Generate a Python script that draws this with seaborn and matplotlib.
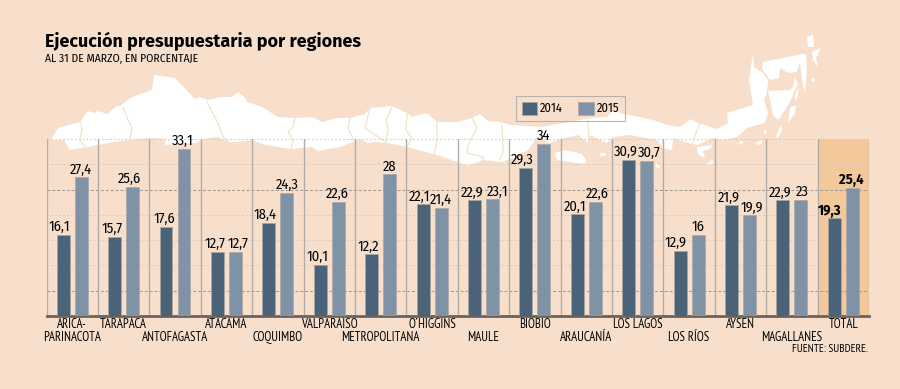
import pandas as pd
import matplotlib
matplotlib.use('Agg')
import matplotlib.pyplot as plt
from matplotlib.patches import Polygon
import seaborn as sns

regiones = ['ARICA-\nPARINACOTA', 'TARAPACA', 'ANTOFAGASTA', 'ATACAMA', 'COQUIMBO', 'VALPARAÍSO',
            'METROPOLITANA', 'O´HIGGINS', 'MAULE', 'BIOBÍO', 'ARAUCANÍA', 'LOS LAGOS', 'LOS RÍOS',
            'AYSEN', 'MAGALLANES', 'TOTAL']
v2014 = [16.1, 15.7, 17.6, 12.7, 18.4, 10.1, 12.2, 22.1, 22.9, 29.3, 20.1, 30.9, 12.9, 21.9, 22.9, 19.3]
v2015 = [27.4, 25.6, 33.1, 12.7, 24.3, 22.6, 28, 21.4, 23.1, 34, 22.6, 30.7, 16, 19.9, 23, 25.4]

# label nudges in px, the paper pushes neighbouring numbers apart
dx2014 = [-3.5, -2, -2, -2, -3.7, -3, -3, -3.5, -2, -3.7, -2, -3, -4.5, -3, -3, -4.5]
dx2015 = [0, -3, -1, 3, 0, -1, 0, 0, 5, 0, 1.5, 3, 0, 2, 1, -1]

BG = '#f8dfcc'
C14 = '#4a6378'
C15 = '#8093a6'
BAND = '#f3c99b'
NARROW = ['Fira Sans Condensed', 'PT Sans Narrow', 'Liberation Sans Narrow', 'Liberation Sans']
NARROWER = ['PT Sans Narrow', 'Fira Sans Condensed', 'Liberation Sans Narrow', 'Liberation Sans']

# decorative map outline, figure pixels
costa = [(52, 138), (58, 128), (80, 122), (88, 111), (94, 113), (98, 111), (107, 114), (117, 106), (120, 106),
         (132, 97), (143, 93), (152, 90), (154, 75), (175, 78), (195, 99), (200, 97), (207, 100), (222, 97),
         (232, 97), (238, 92), (245, 98), (247, 102), (262, 107), (278, 117), (295, 118), (312, 117), (322, 122),
         (337, 118), (350, 118), (365, 114), (370, 108), (392, 106), (407, 113), (412, 117), (427, 113), (437, 122),
         (457, 122), (472, 118), (480, 114), (488, 121), (500, 122), (510, 125), (540, 127), (570, 122), (590, 118),
         (607, 117), (613, 110), (620, 113), (653, 120), (667, 125), (680, 127), (687, 122), (690, 119), (698, 123),
         (717, 129), (728, 123), (727, 113), (753, 105), (749, 80), (753, 53), (754, 67), (762, 72), (768, 80),
         (767, 92), (764, 100), (768, 113), (765, 123), (747, 128), (737, 137), (723, 140), (713, 138), (697, 145),
         (692, 144), (673, 138), (672, 150), (663, 148), (657, 140), (630, 135), (613, 137), (607, 143), (590, 135),
         (588, 143), (578, 135), (560, 139), (550, 143), (537, 137), (528, 150), (513, 158), (502, 162), (483, 160),
         (468, 166), (457, 162), (437, 155), (407, 147), (387, 143), (377, 142), (368, 143), (360, 139), (340, 147),
         (318, 151), (312, 147), (292, 149), (285, 148), (265, 145), (252, 140), (238, 142), (228, 142), (218, 137),
         (208, 138), (195, 143), (165, 145), (165, 139), (152, 138), (128, 140), (108, 143), (88, 147), (70, 150),
         (64, 140), (52, 140)]
islas = [[(555, 153), (565, 150), (582, 154), (586, 160), (585, 164), (570, 162), (557, 160)],
         [(763, 62), (802, 54), (806, 54), (807, 70), (805, 93), (802, 80), (800, 62), (797, 72), (788, 73),
          (780, 68), (779, 78), (770, 80), (762, 69)],
         [(768, 91), (790, 90), (793, 87), (795, 77), (798, 84), (790, 102), (785, 110), (778, 120), (773, 115),
          (770, 100)],
         [(790, 108), (796, 105), (795, 113), (788, 123)], [(797, 90), (799, 88), (797, 100), (794, 98)],
         [(807, 37), (813, 35), (814, 47), (808, 47)], [(812, 52), (821, 48), (816, 58), (818, 67), (813, 60)],
         [(813, 77), (815, 80), (813, 82), (811, 80)], [(697, 147), (713, 145), (710, 149), (703, 151), (705, 158),
                                                        (698, 154)],
         [(706, 164), (712, 160), (714, 163), (708, 165)], [(740, 141), (743, 141), (742, 145), (739, 144)],
         [(756, 143), (762, 140), (762, 144), (757, 145)], [(776, 137), (781, 125), (782, 130), (778, 138)],
         [(764, 131), (766, 129), (766, 134), (764, 134)], [(600, 153), (606, 153), (605, 156), (600, 156)],
         [(655, 163), (660, 165), (659, 169), (655, 166)]]
bordes = [[(80, 122), (82, 128), (80, 140), (85, 147)], [(123, 107), (128, 120), (132, 128), (130, 139)],
          [(207, 102), (210, 108), (218, 123), (223, 137), (228, 142)],
          [(295, 118), (293, 127), (288, 132), (293, 140), (291, 149)], [(350, 118), (348, 128), (354, 140)],
          [(370, 108), (365, 128), (386, 142)], [(392, 107), (386, 120), (388, 130), (386, 143)],
          [(407, 113), (406, 130), (412, 138), (407, 147)], [(437, 122), (437, 140), (434, 155)],
          [(472, 118), (477, 128), (468, 145), (467, 153), (483, 157), (484, 161)],
          [(502, 125), (503, 152), (500, 160)], [(588, 120), (589, 143)], [(700, 123), (692, 143)]]

sns.set_theme(style='white', rc={'axes.facecolor': 'none', 'figure.facecolor': BG})
plt.rcParams['font.family'] = NARROW

df = pd.DataFrame({'region': regiones * 2,
                   'valor': v2014 + v2015,
                   'anio': ['2014'] * 16 + ['2015'] * 16})

fig = plt.figure(figsize=(9, 3.89), dpi=100)

# map layer under the chart
bg = fig.add_axes([0, 0, 1, 1], zorder=0)
bg.set_xlim(0, 900)
bg.set_ylim(389, 0)
bg.axis('off')
bg.add_patch(Polygon(costa, closed=True, fc='white', ec='none'))
for isla in islas:
    bg.add_patch(Polygon(isla, closed=True, fc='white', ec='none'))
for b in bordes:
    bg.plot([p[0] for p in b], [p[1] for p in b], color='#ece6cc', lw=0.9)

ax = fig.add_axes([46.5 / 900, 73 / 389, 822.5 / 900, 177 / 389], zorder=1)
ax.axvspan(14.5, 15.5, color=BAND, lw=0, zorder=0)

sns.barplot(data=df, x='region', y='valor', hue='anio', palette=[C14, C15], width=0.7, gap=0.28,
            saturation=1, edgecolor='#a8a8a4', linewidth=0.5, ax=ax, zorder=3, legend=True)

ax.set_xlim(-0.5, 15.5)
ax.set_ylim(0, 35)
ax.set_xlabel('')
ax.set_ylabel('')
ax.set_yticks(range(0, 36, 5))
ax.set_yticklabels([])
ax.tick_params(axis='both', length=0)
for s in ['top', 'left', 'right']:
    ax.spines[s].set_visible(False)
ax.spines['bottom'].set_color('#6b625c')
ax.spines['bottom'].set_linewidth(2)

# grid, the 5 and 25 lines are stronger
for y in range(5, 36, 5):
    fuerte = y in (5, 25)
    ax.axhline(y, color='#9c968f' if fuerte else '#d6ccc1', lw=0.7, ls=(0, (3, 2)) if fuerte else (0, (2, 2)), zorder=1)
for i in range(17):
    ax.axvline(i - 0.5, color='#b0aca8', lw=1, zorder=2)

# staggered category names, second row on even places
ax.set_xticks(range(16))
ticks = ['\n' + r if i % 2 == 0 and i > 0 else r for i, r in enumerate(regiones)]
ax.set_xticklabels(ticks, fontsize=9.2, color='black', linespacing=0.95, family=NARROWER)
ax.tick_params(axis='x', pad=1.5)

for cont, dxs in zip(ax.containers[:2], [dx2014, dx2015]):
    for j, (bar, dx) in enumerate(zip(cont, dxs)):
        total = j == 15
        txt = f'{bar.get_height():g}'.replace('.', ',')
        ax.annotate(txt, (bar.get_x() + bar.get_width() / 2, bar.get_height()), xytext=(dx * 0.72, 0.5),
                    textcoords='offset points', ha='center', va='bottom', color='black', zorder=5,
                    fontsize=10.4, fontweight='bold' if total else 'normal')

h, l = ax.get_legend_handles_labels()
leg = ax.legend(h, l, ncol=2, loc='upper left', bbox_to_anchor=(516 / 900, 293 / 389), bbox_transform=fig.transFigure,
                frameon=True, fancybox=False, edgecolor='#a9a6a2', facecolor='none', framealpha=None, fontsize=9,
                handlelength=1.25, handleheight=1.25, handletextpad=0.2, columnspacing=1.25, borderpad=0.45,
                borderaxespad=0)
leg.get_frame().set_linewidth(0.8)
for t in leg.get_texts():
    t.set_color('black')

fig.text(45 / 900, 1 - 41 / 389, 'Ejecución presupuestaria por regiones', fontsize=12.9, fontweight='bold',
         family=['Fira Sans', 'Open Sans', 'DejaVu Sans'], color='black', va='center', ha='left')
fig.text(45 / 900, 1 - 59 / 389, 'AL 31 DE MARZO, EN PORCENTAJE', fontsize=8.3, color='black', va='center', ha='left')
fig.text(868 / 900, 1 - 349 / 389, 'FUENTE: SUBDERE.', fontsize=8.2, color='black', va='center', ha='right',
         family=NARROWER)

fig.savefig('out.png', dpi=100, facecolor=BG)
